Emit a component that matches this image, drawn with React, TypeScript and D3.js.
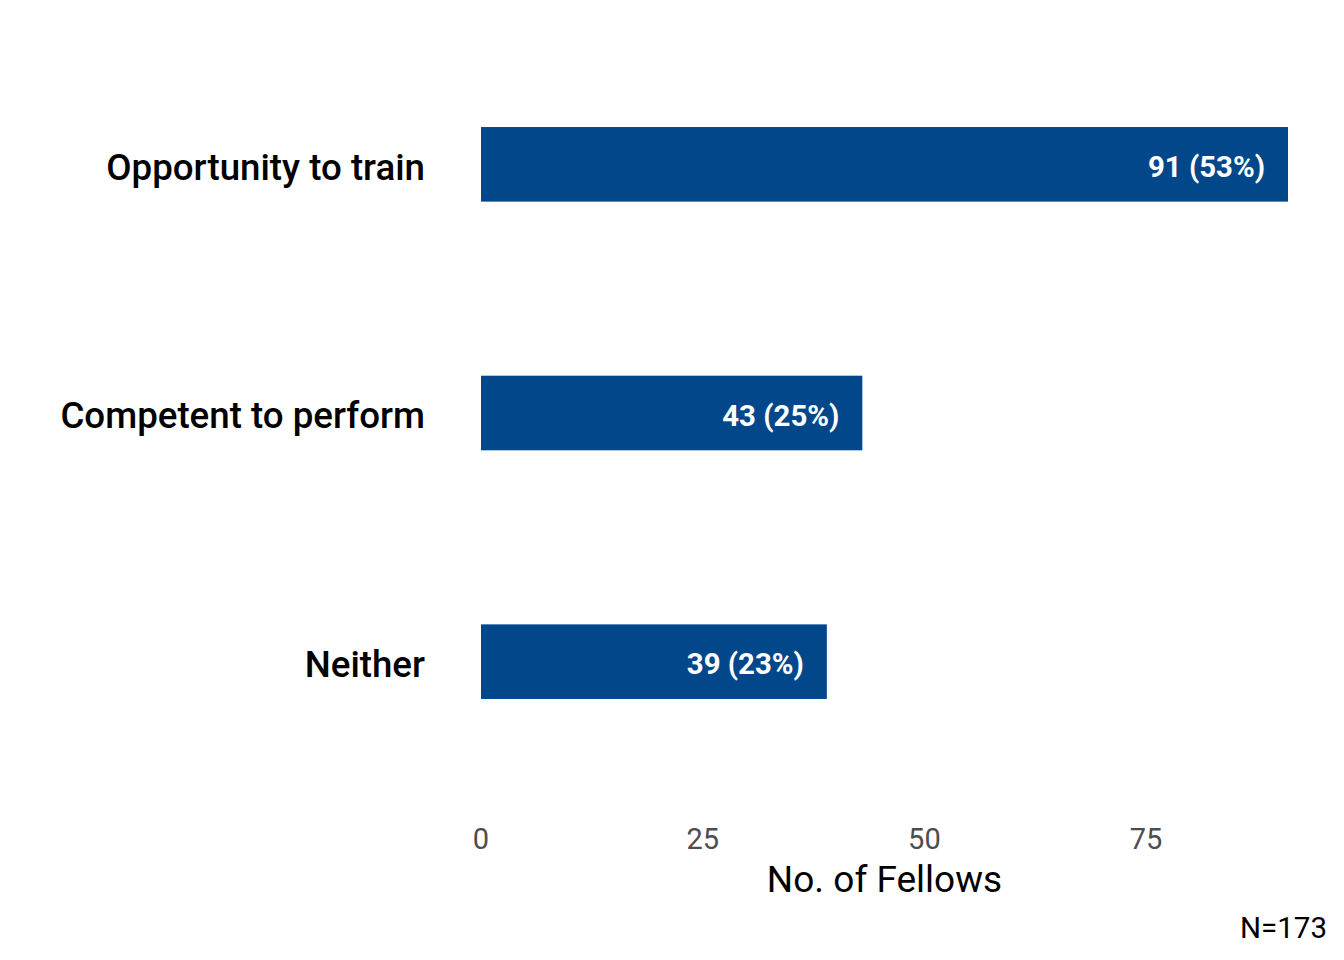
import React, { useEffect, useRef } from 'react';
import * as d3 from 'd3';

const categories = ['Opportunity to train', 'Competent to perform', 'Neither'];
const counts = [91, 43, 39];
const percents = [53, 25, 23];
const ticks = [0, 25, 50, 75];
const total = 173;

const App = () => {
  const ref = useRef<SVGSVGElement | null>(null);

  useEffect(() => {
    const width = 1344, height = 960;
    const svg = d3.select(ref.current);
    svg.selectAll('*').remove();
    svg.attr('width', width).attr('height', height);

    const x = d3.scaleLinear().domain([0, 25]).range([481, 702.7]);
    const y = d3.scaleBand().domain(categories).range([40, 786]).paddingInner(0.7).paddingOuter(0.35);

    const data = categories.map((c, i) => ({ name: c, value: counts[i], pct: percents[i] }));

    svg.selectAll('rect.bar')
      .data(data)
      .enter()
      .append('rect')
      .attr('class', 'bar')
      .attr('x', x(0))
      .attr('y', d => y(d.name)!)
      .attr('width', d => x(d.value) - x(0))
      .attr('height', y.bandwidth())
      .attr('fill', '#03478b');

    svg.selectAll('text.val')
      .data(data)
      .enter()
      .append('text')
      .attr('class', 'val')
      .text(d => `${d.value} (${d.pct}%)`)
      .attr('x', d => x(d.value) - 23)
      .attr('y', d => y(d.name)! + y.bandwidth() / 2 + 2.5)
      .attr('dy', '0.35em')
      .style('text-anchor', 'end')
      .style('font-family', 'Roboto')
      .style('font-weight', 700)
      .style('font-size', '29.4px')
      .style('fill', 'white');

    svg.selectAll('text.cat')
      .data(data)
      .enter()
      .append('text')
      .attr('class', 'cat')
      .text(d => d.name)
      .attr('x', 425)
      .attr('y', d => y(d.name)! + y.bandwidth() / 2 + 2.5)
      .attr('dy', '0.35em')
      .style('text-anchor', 'end')
      .style('font-family', 'Roboto')
      .style('font-weight', 500)
      .style('font-size', '36.7px')
      .style('fill', 'black');

    svg.selectAll('text.tick')
      .data(ticks)
      .enter()
      .append('text')
      .attr('class', 'tick')
      .text(d => d)
      .attr('x', d => x(d))
      .attr('y', 849)
      .style('text-anchor', 'middle')
      .style('font-family', 'Roboto')
      .style('font-size', '29px')
      .style('fill', '#4d4d4d');

    svg.append('text')
      .text('No. of Fellows')
      .attr('x', (x(0) + x(91)) / 2)
      .attr('y', 892)
      .style('text-anchor', 'middle')
      .style('font-family', 'Roboto')
      .style('font-size', '37px')
      .style('fill', 'black');

    svg.append('text')
      .text(`N=${total}`)
      .attr('x', 1327)
      .attr('y', 938)
      .style('text-anchor', 'end')
      .style('font-family', 'Roboto')
      .style('font-size', '29.5px')
      .style('fill', 'black');
  }, []);

  return <svg ref={ref} style={{ display: 'block', position: 'absolute', left: 0, top: 0 }}></svg>;
};

export default App;
